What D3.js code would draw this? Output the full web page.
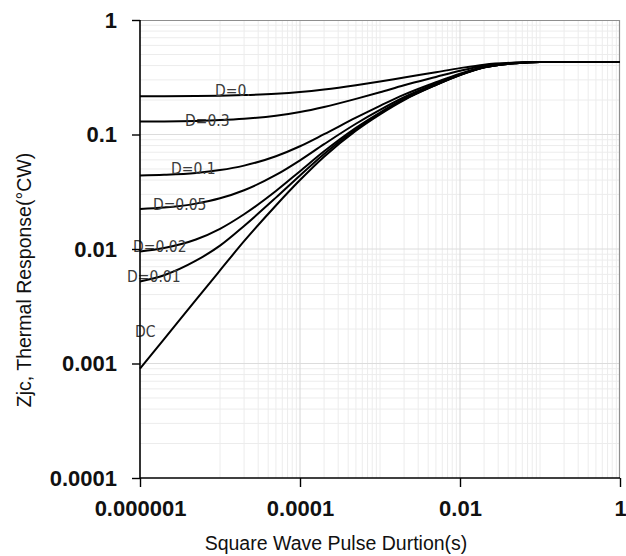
<!DOCTYPE html>
<html>
<head>
<meta charset="utf-8">
<script src="https://cdn.jsdelivr.net/npm/d3@7/dist/d3.min.js"></script>
<style>
  html, body { margin: 0; padding: 0; background: #fff; }
  svg { display: block; }
</style>
</head>
<body>
<svg id="chart" width="626" height="556"></svg>
<script>
// ---- data ----
const durations = [1e-6, 2e-6, 5e-6, 1e-5, 2e-5, 5e-5, 1e-4, 2e-4, 5e-4, 1e-3, 2e-3, 5e-3, 1e-2, 2e-2, 5e-2, 1e-1, 1];
const seriesNames = ["D=0.", "D=0.3", "D=0.1", "D=0.05", "D=0.02", "D=0.01", "DC"];
const zD05  = [0.2155, 0.2158, 0.2168, 0.2183, 0.2209, 0.227, 0.235, 0.247, 0.269, 0.29, 0.315, 0.35, 0.38, 0.4075, 0.425, 0.43, 0.43];
const zD03  = [0.1296, 0.1301, 0.1315, 0.1336, 0.1372, 0.1458, 0.157, 0.1738, 0.2046, 0.234, 0.269, 0.318, 0.36, 0.3985, 0.423, 0.43, 0.43];
const zD01  = [0.0438, 0.0445, 0.0462, 0.0489, 0.0535, 0.0646, 0.079, 0.1006, 0.1402, 0.178, 0.223, 0.286, 0.34, 0.3895, 0.421, 0.43, 0.43];
const zD005 = [0.0224, 0.0230, 0.0249, 0.0277, 0.0326, 0.0443, 0.0595, 0.0823, 0.1241, 0.164, 0.2115, 0.278, 0.335, 0.387, 0.42, 0.43, 0.43];
const zD002 = [0.0095, 0.0102, 0.0121, 0.0150, 0.0201, 0.0321, 0.0478, 0.0713, 0.1144, 0.1556, 0.2046, 0.273, 0.332, 0.386, 0.42, 0.43, 0.43];
const zD001 = [0.0052, 0.0059, 0.0079, 0.0107, 0.0159, 0.0281, 0.0439, 0.0677, 0.1112, 0.1528, 0.2023, 0.2716, 0.331, 0.3855, 0.42, 0.43, 0.43];
const zDC   = [0.0009, 0.00163, 0.0036, 0.0065, 0.0117, 0.024, 0.040, 0.064, 0.108, 0.15, 0.20, 0.27, 0.33, 0.385, 0.42, 0.43, 0.43];
// label anchors in data units (pulse duration, response)
const labelX = [8.66e-6, 3.65e-6, 2.44e-6, 1.45e-6, 8.2e-7, 6.9e-7, 8.66e-7];
const labelY = [0.2169, 0.1186, 0.0452, 0.0219, 0.00941, 0.00515, 0.0017];
const xTickValues = [1e-6, 1e-4, 1e-2, 1];
const xTickLabels = ["0.000001", "0.0001", "0.01", "1"];
const yTickValues = [1e-4, 1e-3, 1e-2, 1e-1, 1];
const yTickLabels = ["0.0001", "0.001", "0.01", "0.1", "1"];
const xTitle = "Square Wave Pulse Durtion(s)";
const yTitle = "Zjc, Thermal Response(°CW)";

const allSeries = [zD05, zD03, zD01, zD005, zD002, zD001, zDC];

// ---- layout ----
const svg = d3.select("#chart");
const L = 140, R = 620, T = 20, B = 478;
const x = d3.scaleLog().domain([1e-6, 1]).range([L, R]);
const y = d3.scaleLog().domain([1e-4, 1]).range([B, T]);

svg.append("rect").attr("width", 626).attr("height", 556).attr("fill", "#fff");

// grid
const g = svg.append("g");
const vMinor = [], vMajor = [];
for (let n = -5; n <= -1; n++) {
  for (let k = 1; k <= 9; k++) {
    const v = k * Math.pow(10, n);
    if (k === 1 && (n === -4 || n === -2)) vMajor.push(v); else vMinor.push(v);
  }
}
const hMinor = [], hMajor = [];
for (let n = -4; n <= -1; n++) {
  for (let k = 1; k <= 9; k++) {
    const v = k * Math.pow(10, n);
    if (k === 1) { if (n > -4) hMajor.push(v); } else hMinor.push(v);
  }
}
g.selectAll(".vmin").data(vMinor).enter().append("line")
  .attr("x1", d => x(d)).attr("x2", d => x(d)).attr("y1", T).attr("y2", B)
  .attr("stroke", "#ececec").attr("stroke-width", 1);
g.selectAll(".hmin").data(hMinor).enter().append("line")
  .attr("y1", d => y(d)).attr("y2", d => y(d)).attr("x1", L).attr("x2", R)
  .attr("stroke", "#ececec").attr("stroke-width", 1);
g.selectAll(".vmaj").data(vMajor).enter().append("line")
  .attr("x1", d => x(d)).attr("x2", d => x(d)).attr("y1", T).attr("y2", B)
  .attr("stroke", "#d6d6d6").attr("stroke-width", 1);
g.selectAll(".hmaj").data(hMajor).enter().append("line")
  .attr("y1", d => y(d)).attr("y2", d => y(d)).attr("x1", L).attr("x2", R)
  .attr("stroke", "#dcdcdc").attr("stroke-width", 1);

// plot border top/right
svg.append("line").attr("x1", L).attr("x2", R).attr("y1", T + 0.5).attr("y2", T + 0.5)
  .attr("stroke", "#8f8f8f").attr("stroke-width", 1.2);
svg.append("line").attr("x1", R - 0.5).attr("x2", R - 0.5).attr("y1", T).attr("y2", B)
  .attr("stroke", "#8f8f8f").attr("stroke-width", 1.2);

// curves
const line = d3.line()
  .x((d, i) => x(durations[i]))
  .y(d => y(d))
  .curve(d3.curveMonotoneX);
svg.selectAll(".curve").data(allSeries).enter().append("path")
  .attr("d", d => line(d))
  .attr("fill", "none").attr("stroke", "#000").attr("stroke-width", 2);

// labels
svg.selectAll(".lbl").data(seriesNames).enter().append("text")
  .attr("x", (d, i) => x(labelX[i]))
  .attr("y", (d, i) => y(labelY[i]))
  .attr("font-family", "'DejaVu Sans Condensed', 'DejaVu Sans', sans-serif")
  .attr("font-size", 15.5)
  .attr("fill", "#3a3a3a")
  .text(d => d);

// axes
const yAxis = d3.axisLeft(y).tickValues(yTickValues).tickSize(8)
  .tickFormat((d, i) => yTickLabels[i]);
const gy = svg.append("g").attr("transform", `translate(${L},0)`).call(yAxis);
const xAxis = d3.axisBottom(x).tickValues(xTickValues).tickSize(9).tickPadding(13)
  .tickFormat((d, i) => xTickLabels[i]);
const gx = svg.append("g").attr("transform", `translate(0,${B})`).call(xAxis);
[gx, gy].forEach(a => {
  a.select(".domain").attr("stroke", "#000").attr("stroke-width", 1.6);
  a.selectAll(".tick line").attr("stroke", "#000").attr("stroke-width", 1.4);
  a.selectAll("text").attr("font-family", "'Liberation Sans', Arial, sans-serif")
    .attr("font-weight", "bold").attr("font-size", 22).attr("fill", "#111");
});
gy.selectAll("text").attr("x", -23);
gy.select(".domain").attr("d", `M0,${T}V${B}`);
gx.select(".domain").attr("d", `M${L},0H${R}`);

// titles
svg.append("text").attr("x", 336).attr("y", 550).attr("text-anchor", "middle")
  .attr("font-family", "'Liberation Sans', Arial, sans-serif").attr("font-size", 19.5)
  .attr("fill", "#111").text(xTitle);
svg.append("text").attr("transform", "translate(31,280) rotate(-90)").attr("text-anchor", "middle")
  .attr("font-family", "'Liberation Sans', Arial, sans-serif").attr("font-size", 19.5)
  .attr("fill", "#111").text(yTitle);
</script>
</body>
</html>
